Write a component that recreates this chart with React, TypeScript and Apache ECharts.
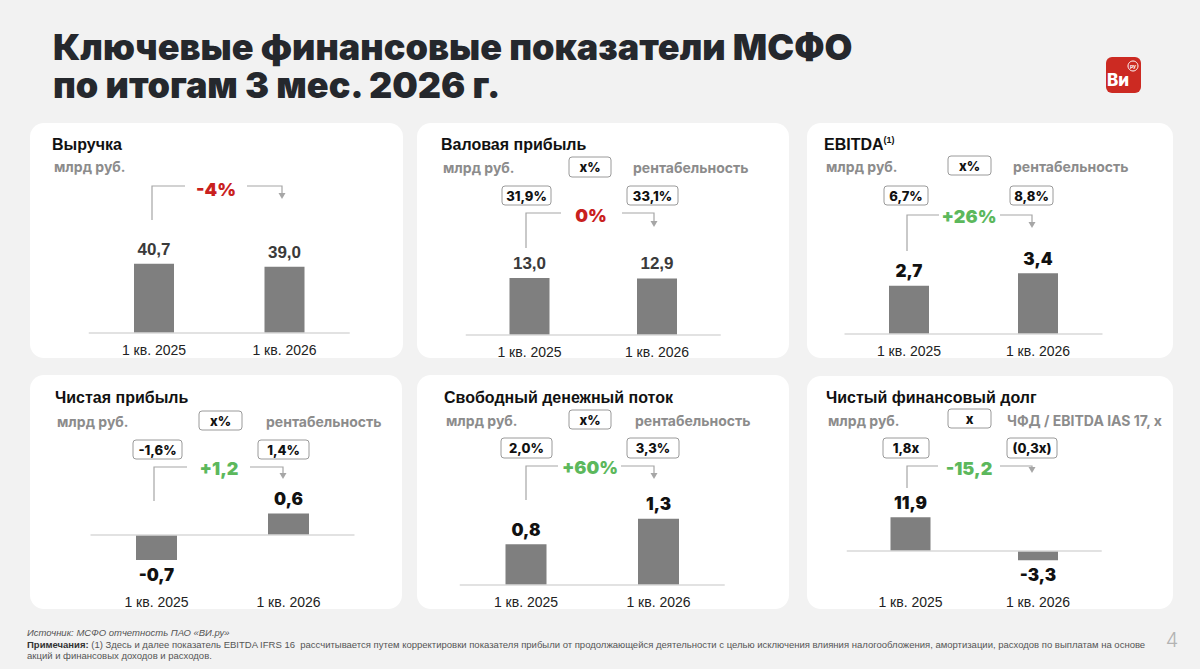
import React, { useEffect, useRef } from 'react';
import * as echarts from 'echarts';

// ---------- DATA ----------
const categories = ['1 кв. 2025', '1 кв. 2026'];
const revenue = [40.7, 39.0];
const grossProfit = [13.0, 12.9];
const ebitda = [2.7, 3.4];
const netIncome = [-0.7, 0.6];
const freeCashFlow = [0.8, 1.3];
const netDebt = [11.9, -3.3];

const grossMargin = ['31,9%', '33,1%'];
const ebitdaMargin = ['6,7%', '8,8%'];
const netMargin = ['-1,6%', '1,4%'];
const fcfMargin = ['2,0%', '3,3%'];
const leverage = ['1,8x', '(0,3x)'];

const titles = ['Выручка', 'Валовая прибыль', 'EBITDA', 'Чистая прибыль', 'Свободный денежный поток', 'Чистый финансовый долг'];
const changes = ['-4%', '0%', '+26%', '+1,2', '+60%', '-15,2'];
const unitLabel = 'млрд руб.';
const ratioLegends = ['', 'рентабельность', 'рентабельность', 'рентабельность', 'рентабельность', 'ЧФД / EBITDA IAS 17, x'];
const ratioKeys = ['', 'x%', 'x%', 'x%', 'x%', 'x'];

// ---------- LAYOUT ----------
const RED = '#c9211e';
const GREEN = '#5cb85c';
const GRAY_LINE = '#a6a6a6';
const BAR = '#7f7f7f';

const series = [revenue, grossProfit, ebitda, netIncome, freeCashFlow, netDebt];
const ratios = [null, grossMargin, ebitdaMargin, netMargin, fcfMargin, leverage];
const changeColors = [RED, RED, GREEN, GREEN, GREEN, GREEN];

const panelBoxes = [
  { x: 30, y: 123, w: 373, h: 235 },
  { x: 417, y: 123, w: 372, h: 235 },
  { x: 807, y: 123, w: 366, h: 235 },
  { x: 30, y: 375, w: 372, h: 234 },
  { x: 417, y: 375, w: 372, h: 234 },
  { x: 807, y: 376, w: 366, h: 233 },
];

const grids = [
  { left: 88.75, width: 261, top: 248, bottom: 333, min: 0, max: 50, barWidth: 40, labelColor: '#3a3a3a', labelFont: 'Liberation Sans', labelWeight: 'bold' },
  { left: 465.75, width: 255, top: 264.9, bottom: 335, min: 0, max: 16, barWidth: 40, labelColor: '#3a3a3a', labelFont: 'Liberation Sans', labelWeight: 'bold' },
  { left: 844.5, width: 258, top: 262.6, bottom: 334, min: 0, max: 4, barWidth: 40, labelColor: '#111', labelFont: 'Inter', labelWeight: 900 },
  { left: 90.5, width: 264, top: 499.3, bottom: 585, min: -1.4, max: 1, barWidth: 41, labelColor: '#111', labelFont: 'Inter', labelWeight: 900 },
  { left: 459.75, width: 265, top: 483, bottom: 585, min: 0, max: 2, barWidth: 41, labelColor: '#111', labelFont: 'Inter', labelWeight: 900 },
  { left: 846.75, width: 255, top: 508.5, bottom: 585, min: -12, max: 15, barWidth: 40, labelColor: '#111', labelFont: 'Inter', labelWeight: 900 },
];

const connectors = [
  { vx: 152, vy: 220, hy: 186, lx: 185, tx: 216, ty: 189, rx1: 247, rx2: 282, ay: 199 },
  { vx: 526, vy: 248, hy: 213, lx: 561, tx: 591, ty: 215, rx1: 622, rx2: 654, ay: 227 },
  { vx: 907, vy: 251, hy: 215, lx: 939, tx: 969, ty: 216, rx1: 1000, rx2: 1032, ay: 228 },
  { vx: 154, vy: 501, hy: 467, lx: 187, tx: 219, ty: 468, rx1: 250, rx2: 283, ay: 479 },
  { vx: 526, vy: 500, hy: 466, lx: 558, tx: 590, ty: 467, rx1: 621, rx2: 654, ay: 479 },
  { vx: 907, vy: 488, hy: 466, lx: 938, tx: 969, ty: 468, rx1: 1000, rx2: 1032, ay: 473 },
];

const headers = [
  { tx: 52, ty: 144, uy: 166, key: null, legendX: 0, boxes: null },
  { tx: 441, ty: 144, uy: 167, key: { x: 569, y: 157, w: 42, h: 20 }, legendX: 633, boxes: [{ x: 502, y: 186, w: 49, h: 19 }, { x: 627, y: 186, w: 51, h: 19 }] },
  { tx: 824, ty: 144, uy: 166, key: { x: 948, y: 156, w: 43, h: 19 }, legendX: 1013, boxes: [{ x: 884, y: 186, w: 44, h: 19 }, { x: 1010, y: 186, w: 43, h: 19 }] },
  { tx: 55, ty: 397, uy: 421, key: { x: 199, y: 411, w: 43, h: 19 }, legendX: 266, boxes: [{ x: 133, y: 440, w: 49, h: 19 }, { x: 258, y: 440, w: 51, h: 19 }] },
  { tx: 444, ty: 397, uy: 420, key: { x: 569, y: 410, w: 42, h: 19 }, legendX: 635, boxes: [{ x: 501, y: 438, w: 51, h: 20 }, { x: 627, y: 438, w: 52, h: 20 }] },
  { tx: 826, ty: 397, uy: 420, key: { x: 948, y: 409, w: 43, h: 19 }, legendX: 1007, boxes: [{ x: 883, y: 438, w: 46, h: 20 }, { x: 1007, y: 438, w: 50, h: 20 }] },
];

const fmt = (v: number) => v.toFixed(1).replace('.', ',');
const FOOT_FONT = '"Liberation Sans Narrow", "Liberation Sans", sans-serif';

function buildOption() {
  const graphic: any[] = [];

  graphic.push({
    type: 'text', x: 53, y: 66, z: 1,
    style: {
      text: 'Ключевые финансовые показатели МСФО\nпо итогам 3 мес. 2026 г.',
      fontFamily: 'Inter', fontWeight: 900, fontSize: 36, lineHeight: 38, fill: '#25282d', verticalAlign: 'middle',
    },
  });

  // logo
  graphic.push({ type: 'rect', shape: { x: 1106, y: 57, width: 35, height: 36, r: 6 }, style: { fill: '#cc2a22' }, z: 1 });
  graphic.push({ type: 'text', x: 1118, y: 80, z: 2, style: { text: 'Ви', fontFamily: 'Inter', fontWeight: 800, fontSize: 17, fill: '#fff', align: 'center', verticalAlign: 'middle' } });
  graphic.push({ type: 'circle', shape: { cx: 1133, cy: 66, r: 5 }, style: { fill: '#cc2a22', stroke: '#fff', lineWidth: 1 }, z: 3 });
  graphic.push({ type: 'text', x: 1133, y: 66, z: 4, style: { text: 'ру', fontFamily: 'Inter', fontWeight: 700, fontSize: 5, fill: '#fff', align: 'center', verticalAlign: 'middle' } });

  panelBoxes.forEach((p, i) => {
    graphic.push({ type: 'rect', shape: { x: p.x, y: p.y, width: p.w, height: p.h, r: 14 }, style: { fill: '#ffffff' }, z: -10 });
    const h = headers[i];
    if (i === 2) {
      graphic.push({
        type: 'text', x: h.tx, y: h.ty, z: 1,
        style: {
          text: '{a|' + titles[i] + '}{b|(1)}', verticalAlign: 'middle',
          rich: {
            a: { fontFamily: 'Liberation Sans', fontWeight: 'bold', fontSize: 16, fill: '#111', color: '#111' },
            b: { fontFamily: 'Liberation Sans', fontWeight: 'bold', fontSize: 9, fill: '#111', color: '#111', verticalAlign: 'top', padding: [0, 0, 8, 0] },
          },
        },
      });
    } else {
      graphic.push({ type: 'text', x: h.tx, y: h.ty, z: 1, style: { text: titles[i], fontFamily: 'Liberation Sans', fontWeight: 'bold', fontSize: 16, fill: '#111', verticalAlign: 'middle' } });
    }
    graphic.push({ type: 'text', x: h.tx + 2, y: h.uy, z: 1, style: { text: unitLabel, fontFamily: 'Inter', fontWeight: 700, fontSize: 14, fill: '#8c8c8c', verticalAlign: 'middle' } });
    if (h.key) {
      graphic.push({ type: 'rect', shape: { x: h.key.x, y: h.key.y, width: h.key.w, height: h.key.h, r: 3 }, style: { fill: '#fff', stroke: '#9a9a9a', lineWidth: 1 }, z: 1 });
      graphic.push({ type: 'text', x: h.key.x + h.key.w / 2, y: h.key.y + h.key.h / 2, z: 2, style: { text: ratioKeys[i], fontFamily: 'Inter', fontWeight: 800, fontSize: 13, fill: '#111', align: 'center', verticalAlign: 'middle' } });
      graphic.push({ type: 'text', x: h.legendX, y: h.uy, z: 1, style: { text: ratioLegends[i], fontFamily: 'Inter', fontWeight: 700, fontSize: 14, fill: '#8c8c8c', verticalAlign: 'middle' } });
    }
    const r = ratios[i];
    if (h.boxes && r) {
      h.boxes.forEach((b, j) => {
        graphic.push({ type: 'rect', shape: { x: b.x, y: b.y, width: b.w, height: b.h, r: 3 }, style: { fill: '#fff', stroke: '#9a9a9a', lineWidth: 1 }, z: 1 });
        graphic.push({ type: 'text', x: b.x + b.w / 2, y: b.y + b.h / 2, z: 2, style: { text: r[j], fontFamily: 'Inter', fontWeight: 800, fontSize: 13, fill: '#111', align: 'center', verticalAlign: 'middle' } });
      });
    }
    const c = connectors[i];
    graphic.push({ type: 'polyline', z: 1, shape: { points: [[c.vx, c.vy], [c.vx, c.hy], [c.lx, c.hy]] }, style: { stroke: GRAY_LINE, lineWidth: 1.2, fill: null } });
    graphic.push({ type: 'polyline', z: 1, shape: { points: [[c.rx1, c.hy], [c.rx2, c.hy], [c.rx2, c.ay - 5]] }, style: { stroke: GRAY_LINE, lineWidth: 1.2, fill: null } });
    graphic.push({ type: 'polygon', z: 1, shape: { points: [[c.rx2 - 3.5, c.ay - 6], [c.rx2 + 3.5, c.ay - 6], [c.rx2, c.ay]] }, style: { fill: GRAY_LINE } });
    graphic.push({ type: 'text', x: c.tx, y: c.ty, z: 2, style: { text: changes[i], fontFamily: 'Inter', fontWeight: 900, fontSize: 18, fill: changeColors[i], align: 'center', verticalAlign: 'middle' } });
  });

  // footer
  graphic.push({ type: 'text', x: 27, y: 632, z: 1, style: { text: 'Источник: МСФО отчетность ПАО «ВИ.ру»', fontFamily: FOOT_FONT, fontStyle: 'italic', fontSize: 9.5, fill: '#555', verticalAlign: 'middle' } });
  graphic.push({
    type: 'text', x: 27, y: 644, z: 1,
    style: {
      text: '{b|Примечания:} (1) Здесь и далее показатель EBITDA IFRS 16  рассчитывается путем корректировки показателя прибыли от продолжающейся деятельности с целью исключения влияния налогообложения, амортизации, расходов по выплатам на основе',
      fontFamily: FOOT_FONT, fontSize: 9.5, fill: '#555', verticalAlign: 'middle',
      rich: { b: { fontFamily: FOOT_FONT, fontWeight: 'bold', fontSize: 9.5, fill: '#333', color: '#333' } },
    },
  });
  graphic.push({ type: 'text', x: 27, y: 655, z: 1, style: { text: 'акций и финансовых доходов и расходов.', fontFamily: FOOT_FONT, fontSize: 9.5, fill: '#555', verticalAlign: 'middle' } });
  graphic.push({ type: 'text', x: 1172, y: 640, z: 1, style: { text: '4', fontFamily: 'Inter', fontWeight: 300, fontSize: 20, fill: '#b3b3b3', align: 'center', verticalAlign: 'middle' } });

  const gridOpts = grids.map((g) => ({
    left: g.left, width: g.width, top: g.top, height: g.bottom - g.top, outerBoundsMode: 'none', containLabel: false,
  }));
  const xAxes = grids.map((g, i) => ({
    type: 'category', gridIndex: i, data: categories,
    axisLine: { show: false, onZero: false }, axisTick: { show: false }, splitLine: { show: false },
    axisLabel: { margin: 10, fontSize: 14, fontFamily: 'Liberation Sans', color: '#222' },
  }));
  const yAxes = grids.map((g, i) => ({ type: 'value', gridIndex: i, min: g.min, max: g.max, show: false, splitLine: { show: false } }));
  const seriesOpts = grids.map((g, i) => ({
    type: 'bar', xAxisIndex: i, yAxisIndex: i, barWidth: g.barWidth,
    itemStyle: { color: BAR },
    label: { show: true, distance: 6, fontSize: 17, fontFamily: g.labelFont, fontWeight: g.labelWeight, color: g.labelColor, formatter: (p: any) => fmt(p.value) },
    data: series[i].map((v) => ({ value: v, label: { position: v < 0 ? 'bottom' : 'top' } })),
    markLine: {
      silent: true, symbol: 'none', label: { show: false },
      lineStyle: { color: '#d9d9d9', type: 'solid', width: 1.5 },
      data: [{ yAxis: 0 }],
    },
  }));

  return {
    animation: false,
    backgroundColor: '#f2f2f2',
    grid: gridOpts,
    xAxis: xAxes,
    yAxis: yAxes,
    series: seriesOpts,
    graphic,
  };
}

export default function App() {
  const ref = useRef<HTMLDivElement>(null);
  useEffect(() => {
    if (!ref.current) return;
    const chart = echarts.init(ref.current, null, { renderer: 'svg' });
    chart.setOption(buildOption() as any);
    return () => chart.dispose();
  }, []);
  return <div ref={ref} style={{ position: 'fixed', left: 0, top: 0, width: 1200, height: 669 }} />;
}
